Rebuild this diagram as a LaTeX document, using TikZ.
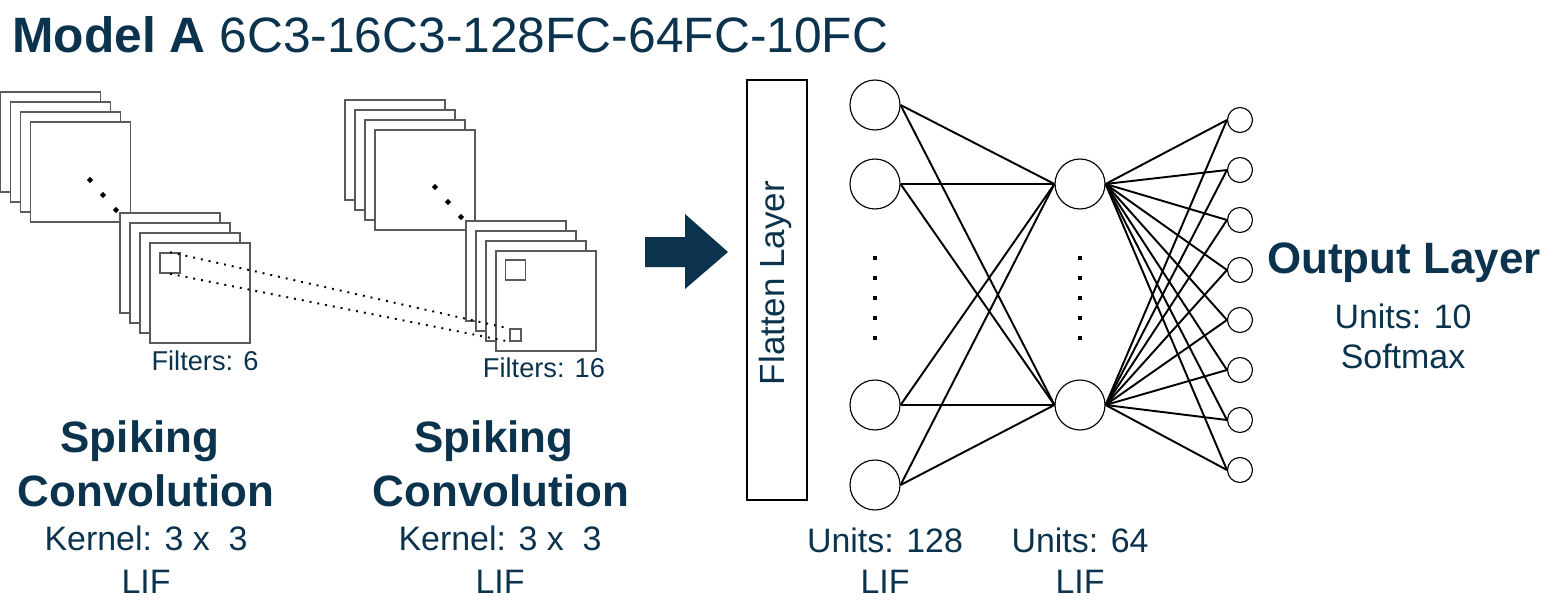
\documentclass[tikz,border=0pt]{standalone}
\usepackage{fontspec}
\setmainfont{Liberation Sans}
\usetikzlibrary{shapes.geometric}
\definecolor{navy}{RGB}{11,51,77}
\definecolor{mapgray}{RGB}{90,90,90}

\begin{document}
\begin{tikzpicture}[x=0.02cm,y=-0.02cm]
	\tikzset{fmap/.style={draw=mapgray,line width=0.9pt,fill=white}}
	\tikzset{kbox/.style={draw=mapgray,line width=0.9pt,inner sep=0pt}}
	\tikzset{ellip/.style={diamond,fill=black,inner sep=0pt,minimum size=0.13cm}}
	\tikzset{neuron/.style={circle,draw,line width=0.65pt,inner sep=0pt,minimum size=1cm}}
	\tikzset{outunit/.style={circle,draw,line width=0.65pt,inner sep=0pt,minimum size=0.5cm}}
	\tikzset{link/.style={line width=1.1pt}}
	\tikzset{layername/.style={text=navy,font=\fontsize{25}{30}\selectfont\bfseries,anchor=base,inner sep=0pt}}
	\tikzset{info/.style={text=navy,font=\fontsize{19.3}{23}\selectfont,anchor=base,inner sep=0pt}}
	\tikzset{filt/.style={text=navy,font=\fontsize{15.5}{18}\selectfont,anchor=base,inner sep=0pt}}
	\useasboundingbox (0,0) rectangle (1554,611);

	\node[anchor=base west,inner sep=0pt,text=navy,font=\fontsize{28.3}{34}\selectfont] (title) at (12,53)
		{\textbf{Model A} 6C3-16C3-128FC-64FC-10FC};

	% first spiking convolution
	\foreach \i in {0,...,3}
		\draw[fmap] (0.5+\i*10,92+\i*10) rectangle ++(100,100);
	\node[ellip] (d1a) at (90,180) {};
	\node[ellip] (d1b) at (103,195) {};
	\node[ellip] (d1c) at (116,210) {};
	\foreach \i in {0,...,3}
		\draw[fmap] (120+\i*10,213+\i*10) rectangle ++(100,100);
	\node[kbox,minimum size=0.4cm] (k1) at (170,263) {};
	\node[filt] (f1) at (205,370) {Filters: 6};

	% second spiking convolution
	\foreach \i in {0,...,3}
		\draw[fmap] (345+\i*10,100+\i*10) rectangle ++(100,100);
	\node[ellip] (d2a) at (435,187) {};
	\node[ellip] (d2b) at (448,202) {};
	\node[ellip] (d2c) at (461,217) {};
	\foreach \i in {0,...,3}
		\draw[fmap] (466+\i*10,221+\i*10) rectangle ++(100,100);
	\node[kbox,minimum size=0.4cm] (k2) at (515.5,270) {};
	\node[kbox,minimum size=0.23cm] (k3) at (515.5,335) {};
	\node[filt] (f2) at (544,377) {Filters: 16};

	\draw[dash pattern=on 1.1pt off 3.4pt,line width=1.1pt] (k1.north) -- (k3.north west);
	\draw[dash pattern=on 1.1pt off 3.4pt,line width=1.1pt] (k1.south) -- (k3.south west);

	\node[layername] (sp1) at (140,452) {Spiking};
	\node[layername] (cv1) at (146,506) {Convolution};
	\node[info] (ke1) at (146,550) {Kernel: 3 x\ \ 3};
	\node[info] (li1) at (146,593) {LIF};
	\node[layername] (sp2) at (494,452) {Spiking};
	\node[layername] (cv2) at (501,506) {Convolution};
	\node[info] (ke2) at (500,550) {Kernel: 3 x\ \ 3};
	\node[info] (li2) at (500,593) {LIF};

	% arrow and flatten
	\fill[navy] (645,237) -- (685,237) -- (685,214) -- (728,252) -- (685,289) -- (685,267) -- (645,267) -- cycle;
	\node[draw,line width=0.8pt,minimum width=1.2cm,minimum height=8.4cm,inner sep=0pt] (flat) at (777,290) {};
	\node[rotate=90,inner sep=0pt,text=navy,font=\fontsize{19.9}{24}\selectfont] (flattxt) at (775,283) {Flatten Layer};

	% dense layers
	\foreach \n/\y in {1/105,2/184,3/405,4/485}
		\node[neuron] (a\n) at (875,\y) {};
	\node[neuron] (b1) at (1080,184) {};
	\node[neuron] (b2) at (1080,405) {};
	\foreach \n in {1,...,8}
		\node[outunit] (c\n) at (1240,70+\n*50) {};
	\foreach \y in {258,278,...,338}
		{\fill (873,\y-2) rectangle ++(4,4);
		\fill (1078,\y-2) rectangle ++(4,4);}
	\foreach \n in {1,...,4}
		\foreach \m in {1,2}
			\draw[link] (a\n.east) -- (b\m.west);
	\foreach \m in {1,2}
		\foreach \n in {1,...,8}
			\draw[link] (b\m.east) -- (c\n.west);

	\node[info] (u1) at (885,552) {Units: 128};
	\node[info] (l1) at (885,593) {LIF};
	\node[info] (u2) at (1080,552) {Units: 64};
	\node[info] (l2) at (1080,593) {LIF};
	\node[layername] (outl) at (1404,273) {Output Layer};
	\node[info] (u3) at (1403,328) {Units: 10};
	\node[info] (sm) at (1403,368) {Softmax};
\end{tikzpicture}
\end{document}
